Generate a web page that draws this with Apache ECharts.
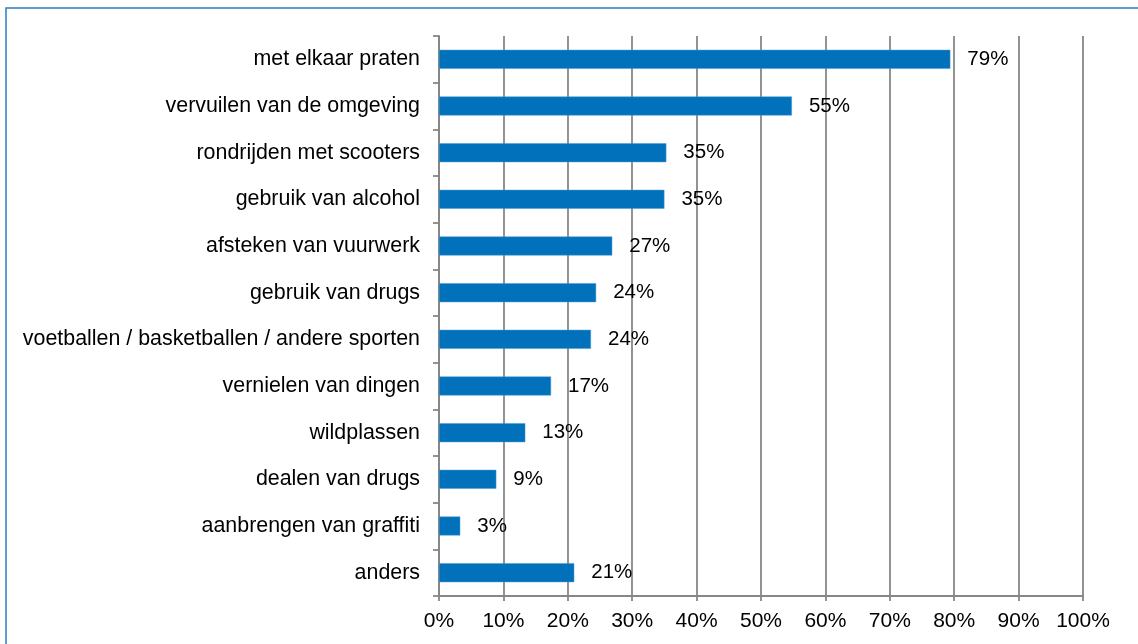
<!DOCTYPE html>
<html>
<head>
<meta charset="utf-8">
<script src="https://cdn.jsdelivr.net/npm/echarts@6/dist/echarts.min.js"></script>
<style>
  html, body { margin: 0; padding: 0; background: #fff; }
  #chart { width: 1138px; height: 644px; }
</style>
</head>
<body>
<div id="chart"></div>
<script>
// categorieën (van boven naar beneden)
const categories = [
  'met elkaar praten',
  'vervuilen van de omgeving',
  'rondrijden met scooters',
  'gebruik van alcohol',
  'afsteken van vuurwerk',
  'gebruik van drugs',
  'voetballen / basketballen / andere sporten',
  'vernielen van dingen',
  'wildplassen',
  'dealen van drugs',
  'aanbrengen van graffiti',
  'anders'
];
// percentages
const values = [79.4, 54.8, 35.3, 35.0, 26.9, 24.4, 23.6, 17.4, 13.4, 8.9, 3.3, 21.0];
const axisMin = 0;
const axisMax = 100;
const axisStep = 10;

let myChart = echarts.init(document.getElementById('chart'));
myChart.setOption({
  animation: false,
  textStyle: { fontFamily: 'Liberation Sans, Arial, sans-serif' },
  graphic: [{
    type: 'polyline',
    shape: { points: [[6, 644], [6, 8], [1138, 8]] },
    style: { stroke: '#2f7bbf', lineWidth: 1.5, fill: null }
  }],
  grid: {
    top: 36,
    left: 439,
    right: 55,
    bottom: 48
  },
  xAxis: {
    type: 'value',
    min: axisMin,
    max: axisMax,
    interval: axisStep,
    axisLine: { show: true, lineStyle: { color: '#878787', width: 1.8 } },
    axisTick: { show: true, length: 5, lineStyle: { color: '#878787', width: 1.8 } },
    axisLabel: {
      formatter: '{value}%',
      color: '#000',
      fontSize: 21,
      margin: 15
    },
    splitLine: { show: true, lineStyle: { color: '#878787', width: 1.8 } }
  },
  yAxis: {
    type: 'category',
    inverse: true,
    data: categories,
    axisLine: { show: true, lineStyle: { color: '#878787', width: 1.8 } },
    axisTick: { show: true, inside: false, length: 6, lineStyle: { color: '#878787', width: 1.8 } },
    axisLabel: {
      color: '#000',
      fontSize: 21.4,
      margin: 19
    }
  },
  series: [{
    type: 'bar',
    data: values,
    barWidth: 19,
    itemStyle: {
      color: '#0071ba',
      borderColor: '#4a9ad4',
      borderWidth: 0.5
    },
    label: {
      show: true,
      position: 'right',
      distance: 17,
      color: '#000',
      fontSize: 20.5,
      formatter: function (p) { return Math.round(p.value) + '%'; }
    }
  }]
});
window.addEventListener('resize', function () {
  myChart.resize();
});
</script>
</body>
</html>
